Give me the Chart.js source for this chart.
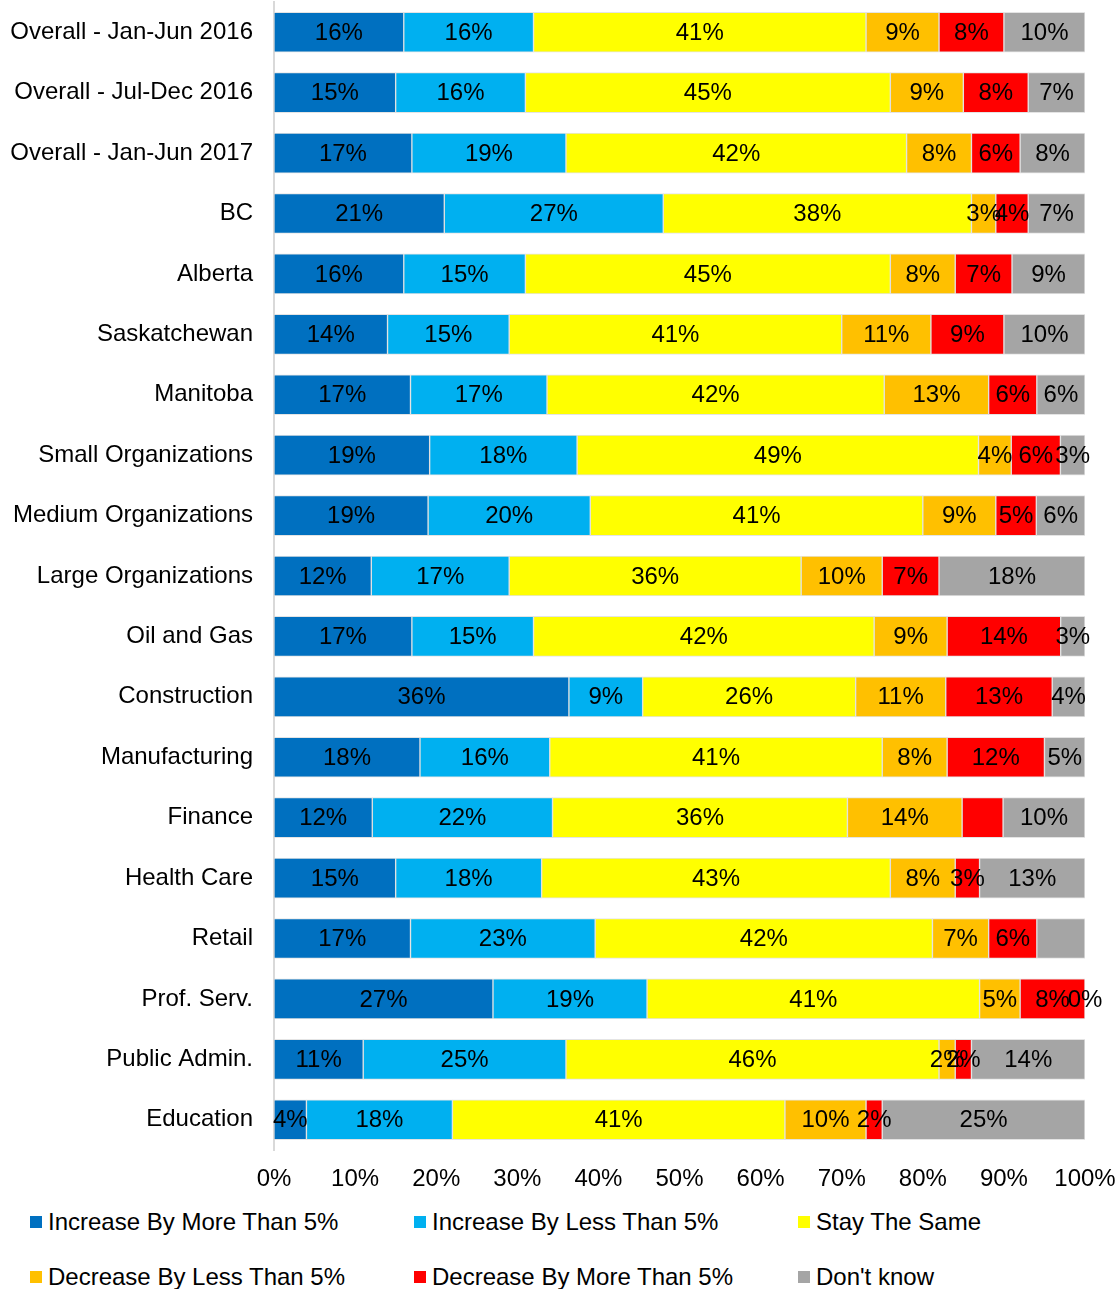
<!DOCTYPE html>
<html>
<head>
<meta charset="utf-8">
<script src="https://cdn.jsdelivr.net/npm/chart.js@4"></script>
<style>
  body { margin: 0; background: #fff; }
  #wrap { position: relative; width: 1119px; height: 1289px; font-family: "Liberation Sans", Arial, sans-serif; }
  #chart { position: absolute; left: 0; top: 0; }
  .legend-item { position: absolute; display: flex; align-items: center; font-size: 24px; color: #000; white-space: nowrap; }
  .legend-item span.box { display: inline-block; width: 12px; height: 12px; margin-right: 6px; }
</style>
</head>
<body>
<div id="wrap">
  <canvas id="chart" width="1119" height="1200"></canvas>
  <div id="legend"></div>
</div>
<script>
const categories = [
  'Overall - Jan-Jun 2016', 'Overall - Jul-Dec 2016', 'Overall - Jan-Jun 2017',
  'BC', 'Alberta', 'Saskatchewan', 'Manitoba',
  'Small Organizations', 'Medium Organizations', 'Large Organizations',
  'Oil and Gas', 'Construction', 'Manufacturing', 'Finance', 'Health Care',
  'Retail', 'Prof. Serv.', 'Public Admin.', 'Education'
];

// answers in percent, one value per category
const increaseMore = [16, 15, 17, 21, 16, 14, 17, 19, 19, 12, 17, 36, 18, 12, 15, 17, 27, 11, 4];
const increaseLess = [16, 16, 19, 27, 15, 15, 17, 18, 20, 17, 15, 9, 16, 22, 18, 23, 19, 25, 18];
const staySame     = [41, 45, 42, 38, 45, 41, 42, 49, 41, 36, 42, 26, 41, 36, 43, 42, 41, 46, 41];
const decreaseLess = [9, 9, 8, 3, 8, 11, 13, 4, 9, 10, 9, 11, 8, 14, 8, 7, 5, 2, 10];
const decreaseMore = [8, 8, 6, 4, 7, 9, 6, 6, 5, 7, 14, 13, 12, 5, 3, 6, 8, 2, 2];
const dontKnow     = [10, 7, 8, 7, 9, 10, 6, 3, 6, 18, 3, 4, 5, 10, 13, 6, 0, 14, 25];

const seriesNames = [
  'Increase By More Than 5%', 'Increase By Less Than 5%', 'Stay The Same',
  'Decrease By Less Than 5%', 'Decrease By More Than 5%', "Don't know"
];
const seriesColors = ['#0070C0', '#00B0F0', '#FFFF00', '#FFC000', '#FF0000', '#A5A5A5'];
const seriesValues = [increaseMore, increaseLess, staySame, decreaseLess, decreaseMore, dontKnow];

const xTicks = [0, 10, 20, 30, 40, 50, 60, 70, 80, 90, 100];

// segments printed without a value label
const noLabel = [['Finance', 'Decrease By More Than 5%'], ['Retail', "Don't know"]];

const FONT = '"Liberation Sans", Arial, sans-serif';

// 100% stacked: each row is scaled to its own total
const rowTotals = categories.map((c, i) => seriesValues.reduce((s, arr) => s + arr[i], 0));

const datasets = seriesNames.map((name, k) => ({
  label: name,
  data: seriesValues[k].map((v, i) => v / rowTotals[i] * 100),
  raw: seriesValues[k],
  backgroundColor: seriesColors[k],
  borderColor: 'rgba(217,217,217,0.7)',
  borderWidth: 1,
  borderSkipped: false,
  barThickness: 40
}));

const valueLabels = {
  id: 'valueLabels',
  afterDatasetsDraw(chart) {
    const ctx = chart.ctx;
    ctx.save();
    ctx.font = '24px ' + FONT;
    ctx.fillStyle = '#000';
    ctx.textAlign = 'center';
    ctx.textBaseline = 'middle';
    chart.data.datasets.forEach((ds, k) => {
      const meta = chart.getDatasetMeta(k);
      meta.data.forEach((bar, i) => {
        const skip = noLabel.some(p => p[0] === categories[i] && p[1] === ds.label);
        if (skip) return;
        const c = bar.getCenterPoint();
        ctx.fillText(ds.raw[i] + '%', c.x, c.y + 1);
      });
    });
    ctx.restore();
  }
};

new Chart(document.getElementById('chart'), {
  type: 'bar',
  data: { labels: categories, datasets: datasets },
  plugins: [valueLabels],
  options: {
    responsive: false,
    animation: false,
    indexAxis: 'y',
    layout: { padding: { top: 2, right: 34, left: 0, bottom: 0 } },
    plugins: { legend: { display: false }, tooltip: { enabled: false } },
    scales: {
      x: {
        stacked: true,
        min: 0,
        max: 100,
        afterBuildTicks: (scale) => { scale.ticks = xTicks.map(v => ({ value: v })); },
        afterFit: (scale) => {
          scale.height = 50;
          scale.paddingLeft = 0;
          scale.paddingRight = 0;
        },
        ticks: {
          autoSkip: false,
          maxRotation: 0,
          padding: 15,
          color: '#000',
          font: { family: FONT, size: 24 },
          callback: (v) => v + '%'
        },
        grid: { display: false, drawTicks: false },
        border: { display: false }
      },
      y: {
        stacked: true,
        afterFit: (scale) => {
          scale.width = 274;
          scale.paddingTop = 0;
          scale.paddingBottom = 0;
        },
        ticks: {
          padding: 21,
          color: '#000',
          font: { family: FONT, size: 24 }
        },
        grid: { display: false, drawTicks: false },
        border: { display: true, color: '#D9D9D9', width: 2 }
      }
    }
  }
});

// legend in a 3 x 2 grid below the axis
const legendCols = [30, 414, 798];
const legendRows = [1222, 1277];
const legend = document.getElementById('legend');
seriesNames.forEach((name, k) => {
  const item = document.createElement('div');
  item.className = 'legend-item';
  item.style.left = legendCols[k % 3] + 'px';
  item.style.top = (legendRows[Math.floor(k / 3)] - 14) + 'px';
  item.style.height = '28px';
  const box = document.createElement('span');
  box.className = 'box';
  box.style.background = seriesColors[k];
  item.appendChild(box);
  item.appendChild(document.createTextNode(name));
  legend.appendChild(item);
});
</script>
</body>
</html>
